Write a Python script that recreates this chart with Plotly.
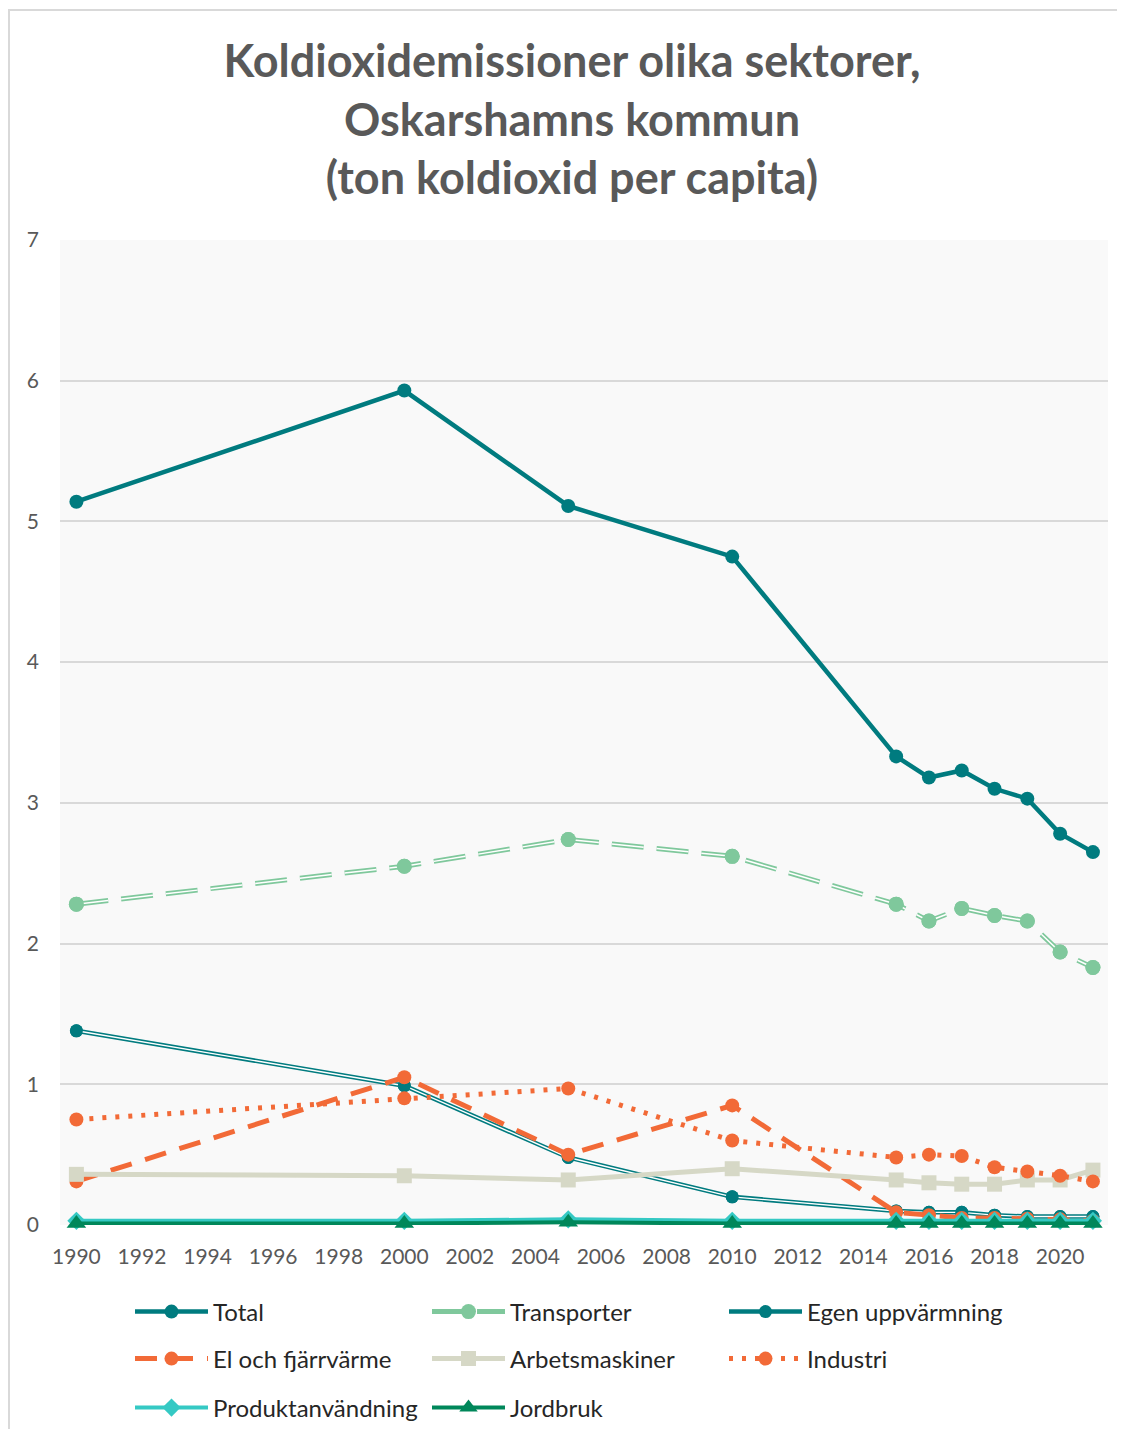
import plotly.graph_objects as go

years = [1990, 2000, 2005, 2010, 2015, 2016, 2017, 2018, 2019, 2020, 2021]

total = [5.14, 5.93, 5.11, 4.75, 3.33, 3.18, 3.23, 3.10, 3.03, 2.78, 2.65]
transporter = [2.28, 2.55, 2.74, 2.62, 2.28, 2.16, 2.25, 2.20, 2.16, 1.94, 1.83]
egen = [1.38, 0.99, 0.48, 0.20, 0.10, 0.09, 0.09, 0.07, 0.06, 0.06, 0.06]
el = [0.31, 1.05, 0.50, 0.85, 0.09, 0.07, 0.05, 0.05, 0.045, 0.04, 0.03]
arbets = [0.36, 0.35, 0.32, 0.40, 0.32, 0.30, 0.29, 0.29, 0.32, 0.32, 0.39]
industri = [0.75, 0.90, 0.97, 0.60, 0.48, 0.50, 0.49, 0.41, 0.38, 0.35, 0.31]
produkt = [0.03, 0.03, 0.04, 0.03, 0.03, 0.03, 0.03, 0.03, 0.03, 0.03, 0.03]
jordbruk = [0.01, 0.01, 0.02, 0.01, 0.01, 0.01, 0.01, 0.01, 0.01, 0.01, 0.01]

x_ticks = list(range(1990, 2021, 2))
y_ticks = list(range(0, 8))

TEAL = "#007b7f"
LGREEN = "#7fc89c"
ORANGE = "#f26a37"
BEIGE = "#d6d8c6"
CYAN = "#35c9c4"
GREEN = "#00875a"

FONT = "Lato"

fig = go.Figure()

# Total
fig.add_trace(go.Scatter(x=years, y=total, name="Total", mode="lines+markers",
                         line=dict(color=TEAL, width=4.5),
                         marker=dict(symbol="circle", size=14, color=TEAL),
                         legend="legend", cliponaxis=False))
# Transporter (double dashed line)
fig.add_trace(go.Scatter(x=years, y=transporter, name="Transporter", mode="lines+markers",
                         line=dict(color=LGREEN, width=5, dash="32px,13px"),
                         marker=dict(symbol="circle", size=15, color=LGREEN),
                         legend="legend", cliponaxis=False))
fig.add_trace(go.Scatter(x=years, y=transporter, mode="lines", showlegend=False, hoverinfo="skip",
                         line=dict(color="white", width=1.5, dash="32px,13px"), cliponaxis=False))
fig.add_trace(go.Scatter(x=years, y=transporter, mode="markers", showlegend=False, hoverinfo="skip",
                         marker=dict(symbol="circle", size=15, color=LGREEN), cliponaxis=False))
# Egen uppvärmning (double line)
fig.add_trace(go.Scatter(x=years, y=egen, name="Egen uppvärmning", mode="lines+markers",
                         line=dict(color=TEAL, width=4.5),
                         marker=dict(symbol="circle", size=13, color=TEAL),
                         legend="legend", cliponaxis=False))
fig.add_trace(go.Scatter(x=years, y=egen, mode="lines", showlegend=False, hoverinfo="skip",
                         line=dict(color="white", width=1.4), cliponaxis=False))
fig.add_trace(go.Scatter(x=years, y=egen, mode="markers", showlegend=False, hoverinfo="skip",
                         marker=dict(symbol="circle", size=13, color=TEAL), cliponaxis=False))
# El och fjärrvärme
fig.add_trace(go.Scatter(x=years, y=el, name="El och fjärrvärme", mode="lines+markers",
                         line=dict(color=ORANGE, width=5, dash="22px,14px"),
                         marker=dict(symbol="circle", size=14, color=ORANGE),
                         legend="legend2", cliponaxis=False))
# Arbetsmaskiner
fig.add_trace(go.Scatter(x=years, y=arbets, name="Arbetsmaskiner", mode="lines+markers",
                         line=dict(color=BEIGE, width=5),
                         marker=dict(symbol="square", size=15, color=BEIGE),
                         legend="legend2", cliponaxis=False))
# Industri
fig.add_trace(go.Scatter(x=years, y=industri, name="Industri", mode="lines+markers",
                         line=dict(color=ORANGE, width=5, dash="4px,9px"),
                         marker=dict(symbol="circle", size=14, color=ORANGE),
                         legend="legend2", cliponaxis=False))
# Produktanvändning
fig.add_trace(go.Scatter(x=years, y=produkt, name="Produktanvändning", mode="lines+markers",
                         line=dict(color=CYAN, width=4),
                         marker=dict(symbol="diamond", size=14, color=CYAN),
                         legend="legend3", cliponaxis=False))
# Jordbruk
fig.add_trace(go.Scatter(x=years, y=jordbruk, name="Jordbruk", mode="lines+markers",
                         line=dict(color=GREEN, width=4),
                         marker=dict(symbol="triangle-up", size=17, color=GREEN),
                         legend="legend3", cliponaxis=False))

# page has an 8px body margin; work in figure pixels and fit the window exactly
W, H = 1109, 1421
ml, mt = 52, 232
plot_right, plot_bottom = 1100, 1217
mr = W - plot_right
mb = H - plot_bottom
pw = W - ml - mr
ph = H - mt - mb


def px_x(p):
    return (p - ml) / pw


def px_y(p):
    return (plot_bottom - p) / ph


leg_common = dict(orientation="h", xanchor="left", yanchor="middle",
                  entrywidth=209, entrywidthmode="pixels",
                  font=dict(family=FONT, size=24, color="#262626"),
                  bgcolor="rgba(0,0,0,0)", itemwidth=73)

fig.update_layout(
    width=W, height=H,
    margin=dict(l=ml, r=mr, t=mt, b=mb, autoexpand=False),
    paper_bgcolor="white",
    plot_bgcolor="#f9f9f9",
    title=dict(text="<b>Koldioxidemissioner olika sektorer,<br>Oskarshamns kommun<br>(ton koldioxid per capita)</b>",
               x=px_x(564), xref="paper", xanchor="center",
               y=1 - 69 / H, yanchor="middle",
               font=dict(family=FONT, size=45, color="#595959")),
    xaxis=dict(range=[1989.5, 2021.46], tickvals=x_ticks, ticktext=[str(v) for v in x_ticks],
               showgrid=False, zeroline=False, showline=False, ticks="", ticklabelstandoff=17,
               tickfont=dict(family=FONT, size=21, color="#595959")),
    yaxis=dict(range=[0, 7], tickvals=y_ticks, showgrid=True, gridcolor="#d9d9d9", gridwidth=2,
               zeroline=False, showline=False, ticks="", ticklabelstandoff=20,
               tickfont=dict(family=FONT, size=21, color="#595959")),
    legend=dict(x=px_x(122), y=px_y(1304), **leg_common),
    legend2=dict(x=px_x(122), y=px_y(1351), **leg_common),
    legend3=dict(x=px_x(122), y=px_y(1400), **leg_common),
    shapes=[dict(type="rect", xref="paper", yref="paper",
                 x0=px_x(1), x1=px_x(1140), y0=px_y(1450), y1=px_y(2),
                 line=dict(color="#d9d9d9", width=2), fillcolor="rgba(0,0,0,0)", layer="below")],
    showlegend=True,
)

fig.write_html("out.html")
